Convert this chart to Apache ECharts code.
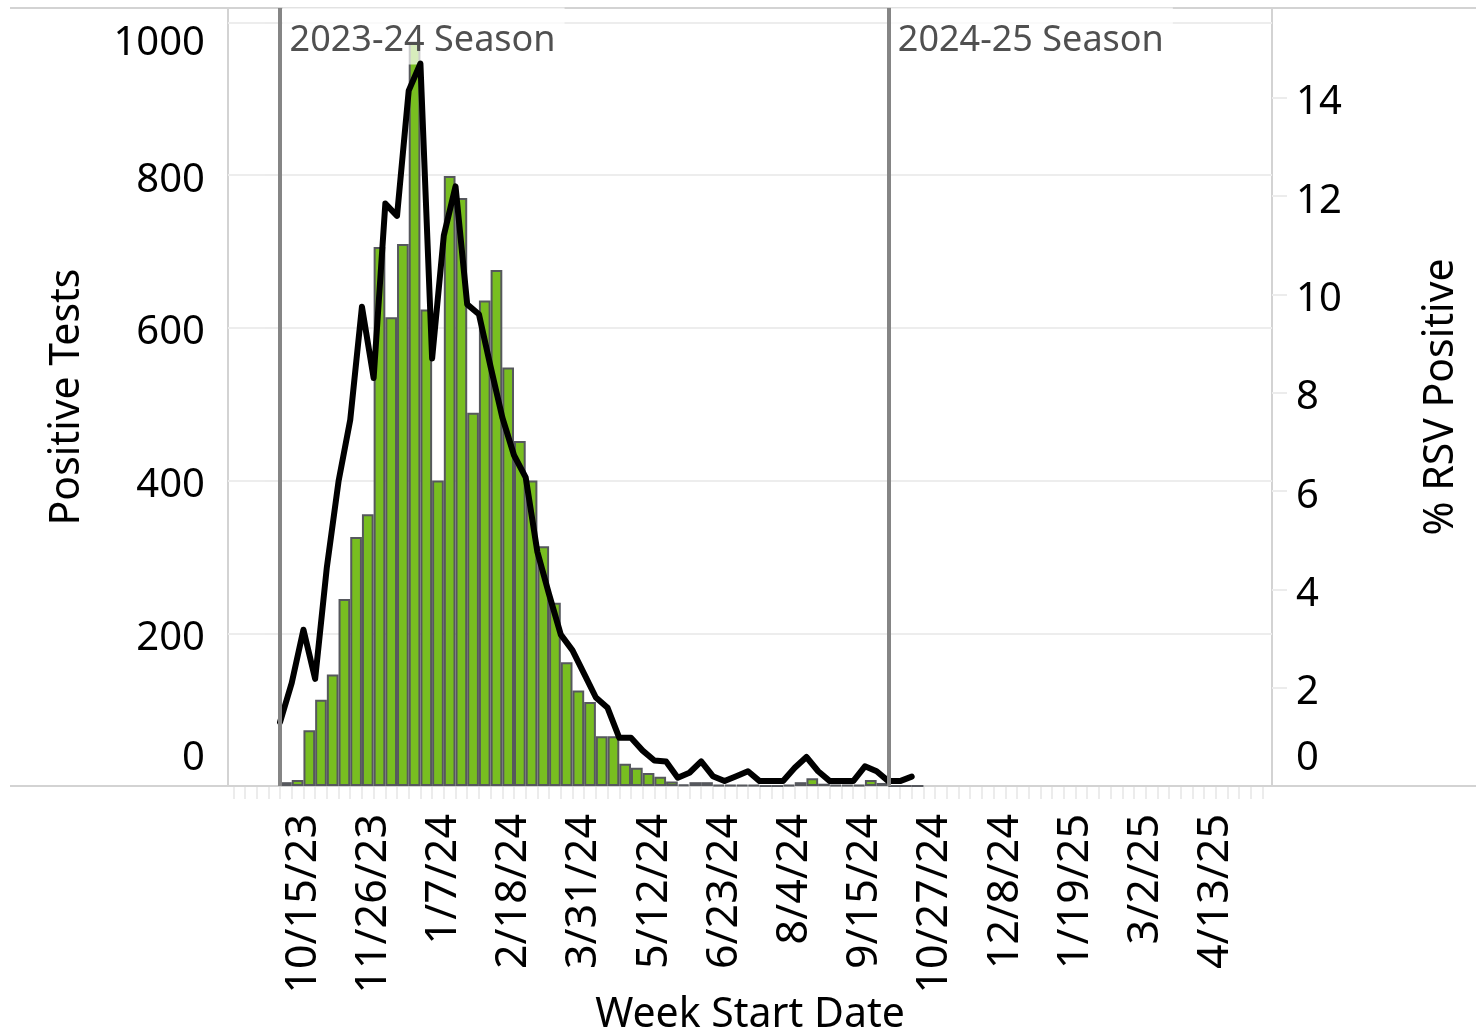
<!DOCTYPE html>
<html><head><meta charset="utf-8">
<script src="https://cdn.jsdelivr.net/npm/echarts@6/dist/echarts.min.js"></script>
<style>html,body{margin:0;padding:0;background:#fff}#c{width:1476px;height:1032px}</style>
</head><body><div id="c"></div>
<script>
// ---- data ----
const weeks = ['10/1/23','10/8/23','10/15/23','10/22/23','10/29/23','11/5/23','11/12/23','11/19/23','11/26/23',
  '12/3/23','12/10/23','12/17/23','12/24/23','12/31/23','1/7/24','1/14/24','1/21/24','1/28/24','2/4/24','2/11/24',
  '2/18/24','2/25/24','3/3/24','3/10/24','3/17/24','3/24/24','3/31/24','4/7/24','4/14/24','4/21/24','4/28/24',
  '5/5/24','5/12/24','5/19/24','5/26/24','6/2/24','6/9/24','6/16/24','6/23/24','6/30/24','7/7/24','7/14/24',
  '7/21/24','7/28/24','8/4/24','8/11/24','8/18/24','8/25/24','9/1/24','9/8/24','9/15/24','9/22/24','9/29/24',
  '10/6/24','10/13/24'];
const positiveTests = [5,8,73,113,146,245,326,356,706,614,710,975,624,400,799,770,489,636,676,548,
  452,400,314,240,162,125,110,65,65,29,24,17,12,6,2,5,5,1,1,1,
  1,0,0,1,5,10,3,1,1,1,8,4,0,0,0];
const pctPositive = [1.30,2.10,3.18,2.18,4.45,6.2,7.45,9.75,8.3,11.85,11.6,14.15,14.7,8.7,11.2,12.2,9.8,9.6,8.53,7.5,
  6.73,6.28,4.76,3.9,3.08,2.76,2.28,1.8,1.59,0.98,0.98,0.72,0.52,0.5,0.17,0.27,0.5,0.2,0.1,0.2,
  0.3,0.1,0.1,0.1,0.37,0.59,0.3,0.1,0.1,0.1,0.4,0.3,0.1,0.1,0.19];
const tickLabels = ['10/15/23','11/26/23','1/7/24','2/18/24','3/31/24','5/12/24','6/23/24','8/4/24','9/15/24',
  '10/27/24','12/8/24','1/19/25','3/2/25','4/13/25'];
const tickWeekIndex = [2,8,14,20,26,32,38,44,50,56,62,68,74,80];
const seasons = ['2023-24 Season','2024-25 Season'];
const seasonWeekIndex = [0,52];

// ---- layout/style ----
const FONT = 'Noto Sans';
const X_MIN = -4.45, X_MAX = 84.8;
const G_LEFT = 228, G_RIGHT = 204, G_TOP = 8, G_BOTTOM = 246;
const LEFT_MAX = 1019, RIGHT_MAX = 15.83;
const plotW = 1476 - G_LEFT - G_RIGHT;
const barW = plotW / (X_MAX - X_MIN);
const weeklyTicks = [];
for (let t = -4; t <= 84; t++) weeklyTicks.push(t);
const tok = {fontFamily: FONT, fontSize: 40, color: '#000'};
const yRich = {
  n: Object.assign({}, tok, {padding: [10, 0, 0, 0]}),
  lo: Object.assign({}, tok, {padding: [0, 0, 55, 0]}),
  hi: Object.assign({}, tok, {padding: [42, 0, 0, 0]})
};

const chart = echarts.init(document.getElementById('c'), null, {renderer: 'canvas'});
chart.setOption({
  animation: false,
  backgroundColor: '#ffffff',
  grid: {left: G_LEFT, right: G_RIGHT, top: G_TOP, bottom: G_BOTTOM, show: true,
         containLabel: false, outerBoundsMode: 'none',
         borderColor: '#d3d3d3', borderWidth: 2, backgroundColor: 'transparent'},
  graphic: [
    {type: 'line', shape: {x1: 10, y1: G_TOP, x2: 1476, y2: G_TOP}, style: {stroke: '#d3d3d3', lineWidth: 2}, z: 1},
    {type: 'line', shape: {x1: 10, y1: 1032 - G_BOTTOM, x2: 1476, y2: 1032 - G_BOTTOM}, style: {stroke: '#d3d3d3', lineWidth: 2}, z: 1}
  ],
  xAxis: {
    type: 'value', min: X_MIN, max: X_MAX,
    name: 'Week Start Date', nameLocation: 'middle', nameGap: 209, nameMoveOverlap: false,
    nameTextStyle: {fontFamily: FONT, fontSize: 41, color: '#000'},
    axisLine: {show: true, lineStyle: {color: '#d3d3d3', width: 2}},
    axisTick: {show: true, customValues: weeklyTicks, length: 13, lineStyle: {color: '#ececec', width: 2}},
    axisLabel: {show: true, customValues: tickWeekIndex, rotate: 90, margin: 28,
      fontFamily: FONT, fontSize: 43, color: '#000',
      formatter: v => tickLabels[tickWeekIndex.indexOf(v)] || ''},
    splitLine: {show: false}
  },
  yAxis: [
    {
      type: 'value', min: 0, max: LEFT_MAX, interval: 200, position: 'left',
      name: 'Positive Tests', nameLocation: 'middle', nameGap: 140, nameRotate: 90, nameMoveOverlap: false,
      nameTextStyle: {fontFamily: FONT, fontSize: 41, color: '#000'},
      axisLine: {show: false},
      axisTick: {show: true, length: 15, lineStyle: {color: '#ececec', width: 2}},
      splitLine: {show: true, lineStyle: {color: '#ededed', width: 2}},
      axisLabel: {show: true, margin: 23, showMaxLabel: false,
        fontFamily: FONT, fontSize: 40, color: '#000',
        formatter: v => v === 0 ? '{lo|0}' : (v === 1000 ? '{hi|1000}' : '{n|' + v + '}'),
        rich: yRich}
    },
    {
      type: 'value', min: 0, max: RIGHT_MAX, interval: 2, position: 'right',
      name: '% RSV Positive', nameLocation: 'middle', nameGap: 149, nameRotate: 90, nameMoveOverlap: false,
      nameTextStyle: {fontFamily: FONT, fontSize: 41, color: '#000'},
      axisLine: {show: false},
      axisTick: {show: true, length: 15, lineStyle: {color: '#ececec', width: 2}},
      splitLine: {show: false},
      axisLabel: {show: true, margin: 24, showMaxLabel: false,
        fontFamily: FONT, fontSize: 40, color: '#000',
        formatter: v => v === 0 ? '{lo|0}' : '{n|' + v + '}',
        rich: yRich}
    }
  ],
  series: [
    {
      name: 'Positive Tests', type: 'bar', yAxisIndex: 0, z: 2,
      barWidth: barW,
      data: positiveTests.map((v, i) => [i + 0.5, v]),
      itemStyle: {color: '#78be20', borderColor: '#56585d', borderWidth: 2},
      markLine: {
        silent: true, symbol: ['none', 'none'], animation: false,
        label: {show: false},
        lineStyle: {color: '#858585', width: 4, type: 'solid', opacity: 1},
        emphasis: {disabled: true},
        data: seasonWeekIndex.map(i => ({xAxis: i}))
      }
    },
    {
      name: 'Season', type: 'scatter', yAxisIndex: 0, z: 3, silent: true,
      symbolSize: 1, itemStyle: {color: 'rgba(0,0,0,0)'},
      data: seasonWeekIndex.map((i, k) => [i, LEFT_MAX, seasons[k]]),
      label: {show: true, position: [3, 0], align: 'left', verticalAlign: 'top',
        formatter: p => p.data[2], opacity: 1,
        fontFamily: FONT, fontSize: 36, color: '#505050',
        lineHeight: 47, padding: [10, 9, 0, 7], backgroundColor: 'rgba(255,255,255,0.7)'}
    },
    {
      name: '% RSV Positive', type: 'line', yAxisIndex: 1, z: 4,
      data: pctPositive.map((v, i) => [i, v]),
      symbol: 'none', smooth: false,
      lineStyle: {color: '#000', width: 6, join: 'round', cap: 'round'}
    }
  ]
});
</script></body></html>
